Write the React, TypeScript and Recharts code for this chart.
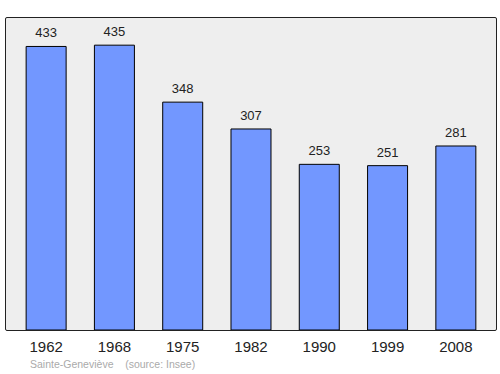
import { Bar, BarChart, CartesianGrid, LabelList, XAxis, YAxis } from 'recharts';

const years = ['1962', '1968', '1975', '1982', '1990', '1999', '2008'];
const population = [433, 435, 348, 307, 253, 251, 281];

const data = years.map((year, i) => ({ year, population: population[i] }));

export default function App() {
  return (
    <div style={{ position: 'absolute', left: 0, top: 0, width: 500, height: 374, background: '#fff', fontFamily: 'Liberation Sans, Arial, sans-serif' }}>
      <BarChart width={500} height={374} data={data} margin={{ top: 17, right: 3, left: 5, bottom: 0 }} barCategoryGap="20.7%">
        <CartesianGrid fill="#eeeeee" horizontal={false} vertical={false} />
        <XAxis
          dataKey="year"
          height={44}
          axisLine={false}
          tickLine={false}
          tickSize={0}
          tickMargin={11}
          padding={{ left: 7, right: 7 }}
          tick={{ fontSize: 15, fill: '#222', fontFamily: 'Liberation Sans, Arial, sans-serif' }}
          interval={0}
        />
        <YAxis hide domain={[0, 478]} />
        <Bar dataKey="population" fill="#7297ff" stroke="#000" strokeWidth={1} isAnimationActive={false}>
          <LabelList dataKey="population" position="top" offset={9} style={{ fontSize: 13, fill: '#222', fontFamily: 'Liberation Sans, Arial, sans-serif' }} />
        </Bar>
      </BarChart>
      <div style={{ position: 'absolute', left: 5, top: 17, width: 492, height: 314, boxSizing: 'border-box', border: '1.5px solid #222', borderRadius: 2, pointerEvents: 'none' }} />
      <div style={{ position: 'absolute', left: 30, top: 358, fontSize: 10.5, color: '#aaa', whiteSpace: 'pre' }}>
        {'Sainte-Geneviève    (source: Insee)'}
      </div>
    </div>
  );
}
